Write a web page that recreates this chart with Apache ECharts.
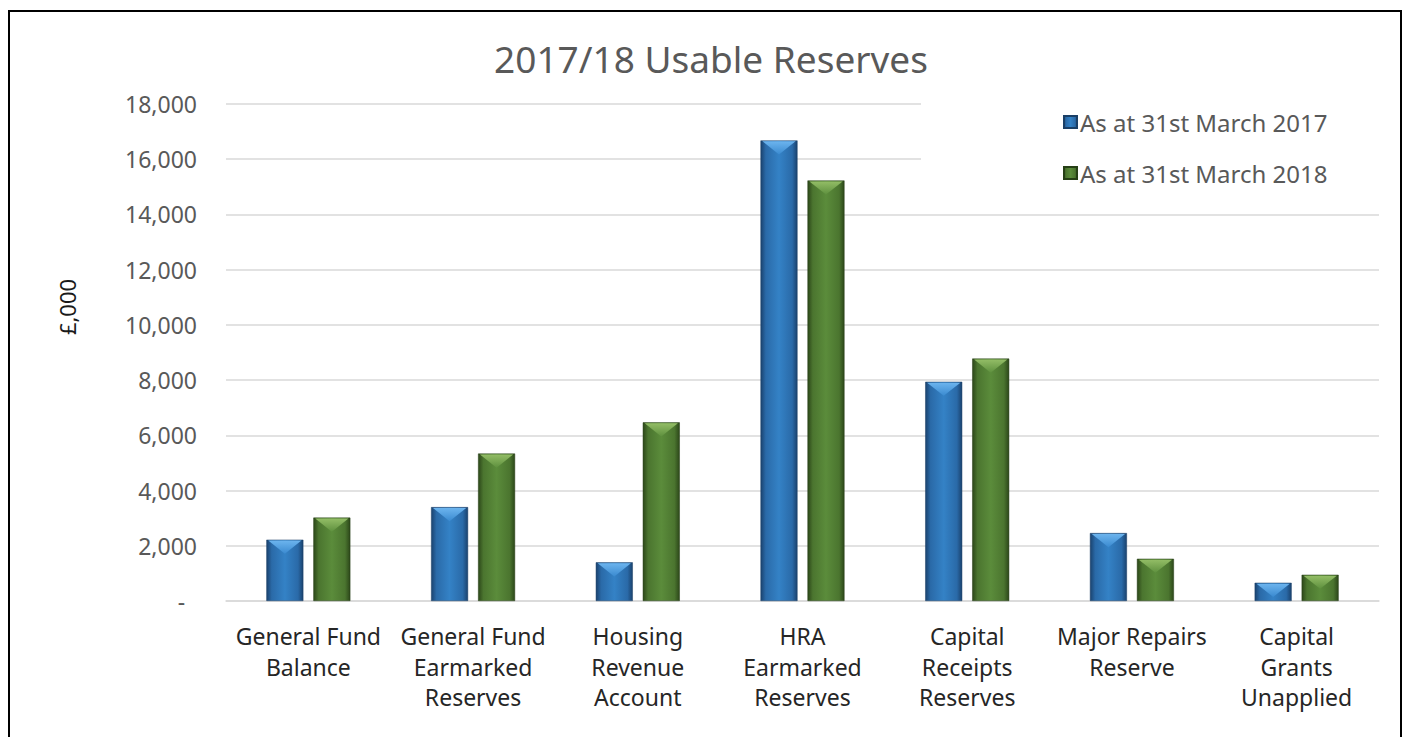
<!DOCTYPE html>
<html>
<head>
<meta charset="utf-8">
<title>2017/18 Usable Reserves</title>
<script src="https://cdn.jsdelivr.net/npm/echarts@6/dist/echarts.min.js"></script>
<style>
  html, body { margin: 0; padding: 0; background: #ffffff; }
  #chart { width: 1408px; height: 737px; }
</style>
</head>
<body>
<div id="chart"></div>
<script>
// Reserve categories (line breaks as shown under the axis)
const categories = [
  'General Fund\nBalance',
  'General Fund\nEarmarked\nReserves',
  'Housing\nRevenue\nAccount',
  'HRA\nEarmarked\nReserves',
  'Capital\nReceipts\nReserves',
  'Major Repairs\nReserve',
  'Capital\nGrants\nUnapplied'
];

// Balances in £,000
const seriesNames = ['As at 31st March 2017', 'As at 31st March 2018'];
const reserves2017 = [2220, 3400, 1400, 16680, 7940, 2460, 660];
const reserves2018 = [3020, 5340, 6470, 15230, 8780, 1530, 950];

// Value axis tick labels (0 shown as a dash, accounting style)
const yTickLabels = ['-  ', '2,000', '4,000', '6,000', '8,000', '10,000', '12,000', '14,000', '16,000', '18,000'];

const FONT = '"Noto Sans", "Open Sans", sans-serif';
const BAR_W = 37;
const BAR_GAP = '27%';

// Bevelled bar fills: dark edges, lighter centre
function bevel(edge, mid, centre) {
  return new echarts.graphic.LinearGradient(0, 0, 1, 0, [
    { offset: 0, color: edge },
    { offset: 0.14, color: mid },
    { offset: 0.5, color: centre },
    { offset: 0.86, color: mid },
    { offset: 1, color: edge }
  ]);
}
// Light chevron on the top face of each bar
function topFace(light, base) {
  return new echarts.graphic.LinearGradient(0, 0, 0, 1, [
    { offset: 0, color: light },
    { offset: 1, color: base }
  ]);
}

const blueFill = bevel('#1a426e', '#2a6aa8', '#3482c6');
const greenFill = bevel('#2c4719', '#4b752f', '#5b8c3b');

const chart = echarts.init(document.getElementById('chart'), null, { renderer: 'svg' });

chart.setOption({
  backgroundColor: '#ffffff',
  animation: false,
  textStyle: { fontFamily: FONT },
  title: {
    text: '2017/18 Usable Reserves',
    left: 706,
    top: 32,
    textAlign: 'center',
    textStyle: { fontFamily: FONT, fontSize: 37, fontWeight: 'normal', color: '#595959', lineHeight: 42 }
  },
  legend: {
    data: seriesNames,
    orient: 'vertical',
    left: 921,
    top: 96,
    padding: [13, 56, 10, 142],
    backgroundColor: '#ffffff',
    itemWidth: 13,
    itemHeight: 12,
    itemGap: 25,
    icon: 'rect',
    textStyle: { fontFamily: FONT, fontSize: 24, color: '#595959', lineHeight: 26, padding: [0, 0, 0, -2] },
    selectedMode: false
  },
  grid: { left: 226, right: 29, top: 104, bottom: 136, containLabel: false },
  xAxis: {
    type: 'category',
    data: categories,
    axisLine: { lineStyle: { color: '#d9d9d9', width: 1.5 } },
    axisTick: { show: false },
    axisLabel: {
      interval: 0,
      margin: 20,
      fontFamily: FONT,
      fontSize: 23,
      lineHeight: 30.5,
      color: '#262626',
      align: 'center',
      verticalAlign: 'top'
    }
  },
  yAxis: {
    type: 'value',
    min: 0,
    max: 18000,
    interval: 2000,
    axisLine: { show: false },
    axisTick: { show: false },
    splitLine: { lineStyle: { color: '#d9d9d9', width: 1.5 } },
    axisLabel: {
      margin: 29,
      fontFamily: FONT,
      fontSize: 23,
      color: '#595959',
      formatter: function (value, index) { return yTickLabels[index]; }
    }
  },
  graphic: [
    {
      type: 'text',
      x: 67,
      y: 307,
      rotation: Math.PI / 2,
      style: {
        text: '£,000',
        fontFamily: FONT,
        fontSize: 22,
        fill: '#1a1a1a',
        align: 'center',
        verticalAlign: 'middle'
      }
    },
    {
      type: 'rect',
      shape: { x: 9, y: 11, width: 1392, height: 760 },
      style: { fill: 'none', stroke: '#000000', lineWidth: 2 },
      silent: true,
      z: 100
    }
  ],
  series: [
    {
      name: seriesNames[0],
      type: 'bar',
      data: reserves2017,
      barWidth: BAR_W,
      barGap: BAR_GAP,
      itemStyle: { color: blueFill, borderColor: '#1a3f66', borderWidth: 0.5 }
    },
    {
      name: seriesNames[1],
      type: 'bar',
      data: reserves2018,
      barWidth: BAR_W,
      barGap: BAR_GAP,
      itemStyle: { color: greenFill, borderColor: '#263f16', borderWidth: 0.5 }
    },
    {
      name: 'top-2017',
      type: 'pictorialBar',
      data: reserves2017,
      barWidth: BAR_W,
      barGap: BAR_GAP,
      symbol: 'path://M0,0 L20,0 L10,7 Z',
      symbolSize: [BAR_W - 4, 13],
      symbolPosition: 'end',
      symbolOffset: [0, 1],
      silent: true,
      z: 3,
      itemStyle: { color: topFace('#6cb4ee', '#3a8ad0') }
    },
    {
      name: 'top-2018',
      type: 'pictorialBar',
      data: reserves2018,
      barWidth: BAR_W,
      barGap: BAR_GAP,
      symbol: 'path://M0,0 L20,0 L10,7 Z',
      symbolSize: [BAR_W - 4, 13],
      symbolPosition: 'end',
      symbolOffset: [0, 1],
      silent: true,
      z: 3,
      itemStyle: { color: topFace('#93bd66', '#5e903e') }
    }
  ]
});
</script>
</body>
</html>
